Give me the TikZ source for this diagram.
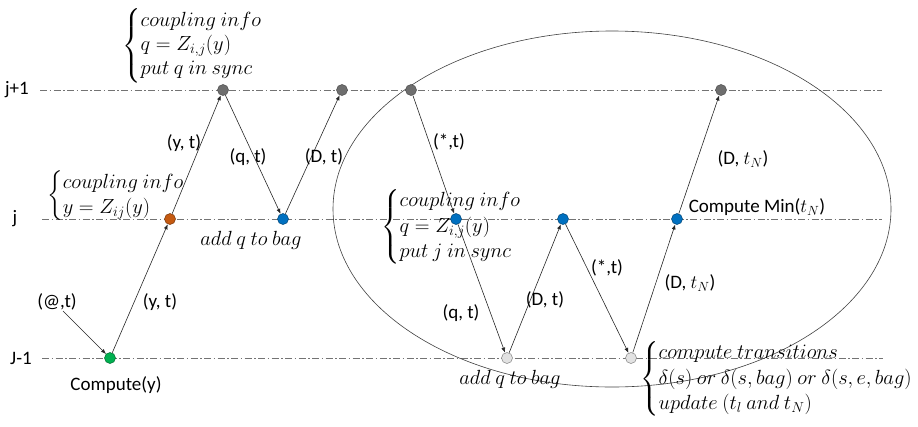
\RequirePackage{fix-cm}
\documentclass[tikz,border=0pt]{standalone}
\usepackage{amsmath}
\usepackage{fontspec}
\setmainfont{Carlito}
\usetikzlibrary{arrows.meta}
\definecolor{evgray}{HTML}{6E6E6E}
\definecolor{evorange}{HTML}{C55A11}
\definecolor{evblue}{HTML}{0070C0}
\definecolor{evgreen}{HTML}{00B050}
\definecolor{evlight}{HTML}{E2E2E2}
\begin{document}
\begin{tikzpicture}[x=1pt,y=-1pt,
  lvl/.style={draw=black!55, dash pattern=on 7pt off 2.5pt on 1.5pt off 2.5pt, line width=0.6pt},
  ev/.style={circle, minimum size=11pt, inner sep=0pt, line width=0.5pt},
  evg/.style={ev, fill=evgray, draw=black!70},
  evo/.style={ev, fill=evorange, draw=evorange!60!black},
  evb/.style={ev, fill=evblue, draw=evblue!60!black},
  evn/.style={ev, fill=evgreen, draw=evgreen!60!black},
  evl/.style={ev, fill=evlight, draw=black!50},
  msg/.style={-{Latex[length=5pt,width=4pt]}, line width=0.6pt, draw=black!85},
  lbl/.style={font=\fontsize{19}{22}\selectfont, inner sep=0pt},
  ann/.style={font=\fontsize{20.5}{21}\selectfont, inner sep=0pt, anchor=west},
]
\useasboundingbox (0,0) rectangle (918,426);

% level labels and lines
\node[lbl] (Lup) at (17,90) {j+1};
\node[lbl] (Lmid) at (15,219) {j};
\node[lbl] (Llow) at (21,358) {J-1};
\coordinate (u0) at (40,90);  \coordinate (u1) at (882,90);
\coordinate (m0) at (42,219); \coordinate (m1) at (882,219);
\coordinate (l0) at (42,358); \coordinate (l1) at (883,358);
\draw[lvl] (u0) -- (u1);
\draw[lvl] (m0) -- (m1);
\draw[lvl] (l0) -- (l1);

% ellipse
\draw[line width=0.6pt, black!75] (612,209) ellipse [x radius=279, y radius=178];

% events
\node[evn] (n1) at (110,358) {};
\node[evo] (n2) at (170,219) {};
\node[evg] (n3) at (223,90) {};
\node[evb] (n4) at (283,219) {};
\node[evg] (n5) at (342,90) {};
\node[evg] (n6) at (411,90) {};
\node[evb] (n7) at (456,219) {};
\node[evl] (n8) at (507,358) {};
\node[evb] (n9) at (563,219) {};
\node[evl] (n10) at (631,358) {};
\node[evb] (n11) at (677,219) {};
\node[evg] (n12) at (721,90) {};

% messages
\coordinate (src) at (63,311);
\draw[msg] (src) -- (n1);
\draw[msg] (n1) -- (n2);
\draw[msg] (n2) -- (n3);
\draw[msg] (n3) -- (n4);
\draw[msg] (n4) -- (n5);
\draw[msg] (n6) -- (n7);
\draw[msg] (n7) -- (n8);
\draw[msg] (n8) -- (n9);
\draw[msg] (n9) -- (n10);
\draw[msg] (n10) -- (n11);
\draw[msg] (n11) -- (n12);

% message labels
\node[lbl] (t1) at (57,302) {(@,t)};
\node[lbl] (t2) at (160,302) {(y, t)};
\node[lbl] (t3) at (184,143) {(y, t)};
\node[lbl] (t4) at (248,157) {(q, t)};
\node[lbl] (t5) at (324,157) {(D, t)};
\node[lbl] (t6) at (449,142) {(*,t)};
\node[lbl] (t7) at (461,313) {(q, t)};
\node[lbl] (t8) at (545,300) {(D, t)};
\node[lbl] (t9) at (607,268) {(*,t)};
\node[lbl] (t10) at (690,283) {(D, $t_N$)};
\node[lbl] (t11) at (743,159) {(D, $t_N$)};
\node[lbl] (t12) at (757,207) {Compute Min($t_N$)};
\node[lbl] (t13) at (116,385) {Compute(y)};

% italic math notes
\node[ann, anchor=center] (bag1) at (251,240) {$add\ q\ to\ bag$};
\node[ann, anchor=center] (bag2) at (510,379) {$add\ q\ to\ bag$};

\node[ann] (a1) at (122,46) {$\delimitershortfall=10pt\renewcommand{\arraystretch}{1.15}\left\{\begin{array}{@{}l@{}}
  coupling\ info\\ q=Z_{i,j}(y)\\ put\ q\ in\ sync\end{array}\right.$};
\node[ann] (a2) at (47,196) {$\renewcommand{\arraystretch}{1.2}\left\{\begin{array}{@{}l@{}}
  coupling\ info\\ y=Z_{ij}(y)\end{array}\right.$};
\node[ann] (a3) at (381,227) {$\renewcommand{\arraystretch}{1.2}\left\{\begin{array}{@{}l@{}}
  coupling\ info\\ q=Z_{i,j}(y)\\ put\ j\ in\ sync\end{array}\right.$};
\node[ann] (a4) at (640,379) {$\renewcommand{\arraystretch}{1.2}\left\{\begin{array}{@{}l@{}}
  compute\ transitions\\ \delta(s)\ or\ \delta(s,bag)\ or\ \delta(s,e,bag)\\ update\ (t_l\ and\ t_N)\end{array}\right.$};
\end{tikzpicture}
\end{document}
